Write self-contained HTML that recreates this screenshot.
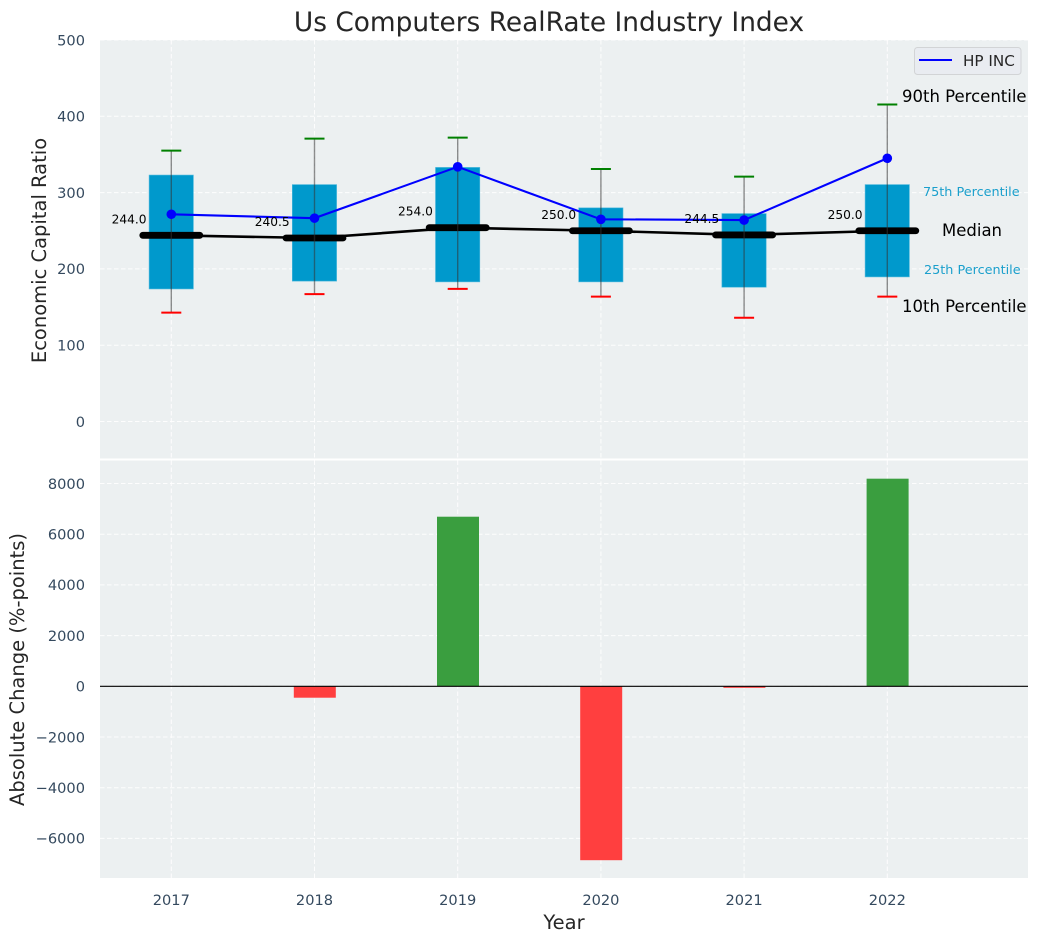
<!DOCTYPE html>
<html>
<head>
<meta charset="utf-8">
<style>
html,body{margin:0;padding:0;background:#fff;}
svg{display:block;}
text{font-family:"DejaVu Sans","Liberation Sans",sans-serif;}
</style>
</head>
<body>
<svg id="chart" xmlns="http://www.w3.org/2000/svg" width="1039" height="942" viewBox="0 0 1039 942">
  <g id="marks"></g>
  <text x="549" y="31" text-anchor="middle" font-size="26.4" fill="#262626">Us Computers RealRate Industry Index</text>
  <text transform="translate(46,250.5) rotate(-90)" text-anchor="middle" font-size="19.5" fill="#262626">Economic Capital Ratio</text>
  <text transform="translate(24,669.5) rotate(-90)" text-anchor="middle" font-size="19.5" fill="#262626">Absolute Change (%-points)</text>
  <text x="564" y="929" text-anchor="middle" font-size="19.5" fill="#262626">Year</text>
  <text x="902" y="102" font-size="16.5" fill="#000000">90th Percentile</text>
  <text x="923" y="196" font-size="12.8" fill="#1a9fcc">75th Percentile</text>
  <text x="942" y="236" font-size="16.5" fill="#000000">Median</text>
  <text x="924" y="274" font-size="12.8" fill="#1a9fcc">25th Percentile</text>
  <text x="902" y="312" font-size="16.5" fill="#000000">10th Percentile</text>
  <g>
    <rect x="914.5" y="47.5" width="106.5" height="27" rx="3" fill="#e9ecf1" stroke="#d2d4d6"/>
    <line x1="919" x2="952" y1="60" y2="60" stroke="#0000ff" stroke-width="2.1"/>
    <text x="963" y="66" font-size="15.2" fill="#262626">HP INC</text>
  </g>
</svg>
<script>
const years = [2017, 2018, 2019, 2020, 2021, 2022];
const p10 = [142.7, 167, 173.8, 163.6, 136, 163.6];
const p25 = [173.7, 184, 183, 183, 176, 189.5];
const medians = [244.0, 240.5, 254.0, 250.0, 244.5, 250.0];
const p75 = [323, 310.5, 333, 280, 272.5, 310.5];
const p90 = [355, 370.7, 372, 331, 321, 415.5];
const companyValues = [271.6, 266.5, 333.8, 265, 264, 345];
const changes = [0, -450, 6690, -6860, -60, 8190];
const topTicks = [0, 100, 200, 300, 400, 500];
const bottomTicks = [-6000, -4000, -2000, 0, 2000, 4000, 6000, 8000];

const NS = 'http://www.w3.org/2000/svg';
const marks = document.getElementById('marks');
const L = 100, R = 1028;
const T1 = 40, B1 = 458.5, T2 = 460.5, B2 = 878;
const xScale = function (y) { return 171.3 + (y - 2017) * 143.2; };
const yTop = function (v) { return 421.5 - v * 0.763; };
const yBot = function (v) { return 686.3 - v * 0.02535; };

function mk(tag, attrs) {
  const el = document.createElementNS(NS, tag);
  for (const k in attrs) el.setAttribute(k, attrs[k]);
  marks.appendChild(el);
  return el;
}
function label(str, attrs) {
  const el = mk('text', attrs);
  el.textContent = str;
  return el;
}
const tickColor = '#34495e';
const tickSize = 14.6;
const gridStyle = { stroke: '#ffffff', 'stroke-width': 1, 'stroke-dasharray': '4.5 2.5', opacity: 0.9 };

/* panels */
const panelTop = mk('rect', { x: L, y: T1, width: R - L, height: B1 - T1, fill: '#ecf0f1' });


const panelBottom = mk('rect', { x: L, y: T2, width: R - L, height: B2 - T2, fill: '#ecf0f1' });



/* grid and ticks */
topTicks.forEach(function (t) {
  const y = yTop(t);
  const g = mk('line', Object.assign({ x1: L, x2: R, y1: y, y2: y }, gridStyle));
  
  
  const tl = label(String(t), { x: 85, y: y + 5.3, 'text-anchor': 'end', 'font-size': tickSize, fill: tickColor });
  
  
});
bottomTicks.forEach(function (t) {
  const y = yBot(t);
  const g = mk('line', Object.assign({ x1: L, x2: R, y1: y, y2: y }, gridStyle));
  
  
  const str = (t < 0 ? '\u2212' : '') + Math.abs(t);
  const tl = label(str, { x: 85, y: y + 5.3, 'text-anchor': 'end', 'font-size': tickSize, fill: tickColor });
  
  
});
years.forEach(function (yr) {
  const x = xScale(yr);
  const g1 = mk('line', Object.assign({ x1: x, x2: x, y1: T1, y2: B1 }, gridStyle));
  
  
  const g2 = mk('line', Object.assign({ x1: x, x2: x, y1: T2, y2: B2 }, gridStyle));
  
  
  const tl = label(String(yr), { x: x, y: 905, 'text-anchor': 'middle', 'font-size': tickSize, fill: tickColor });
  
  
});

/* boxes */
years.forEach(function (yr, i) {
  const x = xScale(yr);
  const box = mk('rect', { x: x - 22.2, y: yTop(p75[i]), width: 44.3, height: yTop(p25[i]) - yTop(p75[i]), fill: '#0099cc', stroke: '#4db8dc', 'stroke-width': 0.6 });
  
  
});

/* median connecting line */
const medianLine = mk('polyline', { points: years.map(function (yr, i) { return xScale(yr) + ',' + yTop(medians[i]); }).join(' '), fill: 'none', stroke: '#000000', 'stroke-width': 2.6 });



/* median bars */
years.forEach(function (yr, i) {
  const x = xScale(yr);
  const m = mk('line', { x1: x - 28.5, x2: x + 28.5, y1: yTop(medians[i]), y2: yTop(medians[i]), stroke: '#000000', 'stroke-width': 6.8, 'stroke-linecap': 'round' });
  
  
});

/* whiskers */
years.forEach(function (yr, i) {
  const x = xScale(yr);
  const w = mk('line', { x1: x, x2: x, y1: yTop(p90[i]), y2: yTop(p10[i]), stroke: '#333333', 'stroke-opacity': 0.55, 'stroke-width': 1.4 });
  
  
  const c1 = mk('line', { x1: x - 10, x2: x + 10, y1: yTop(p90[i]), y2: yTop(p90[i]), stroke: '#008000', 'stroke-width': 2 });
  
  
  const c2 = mk('line', { x1: x - 10, x2: x + 10, y1: yTop(p10[i]), y2: yTop(p10[i]), stroke: '#ff0000', 'stroke-width': 2 });
  
  
});

/* company line */
const companyLine = mk('polyline', { points: years.map(function (yr, i) { return xScale(yr) + ',' + yTop(companyValues[i]); }).join(' '), fill: 'none', stroke: '#0000ff', 'stroke-width': 2.1 });


years.forEach(function (yr, i) {
  const pt = mk('circle', { cx: xScale(yr), cy: yTop(companyValues[i]), r: 4.8, fill: '#0000ff' });
  
  
});

/* median value labels */
years.forEach(function (yr, i) {
  const t = label(medians[i].toFixed(1), { x: xScale(yr) - 24.8, y: yTop(medians[i]) - 12, 'text-anchor': 'end', 'font-size': 12.2, fill: '#000000' });
  
  
});

/* bars */
years.forEach(function (yr, i) {
  const v = changes[i];
  if (v === 0) return;
  const x = xScale(yr);
  const y0 = yBot(0), y1 = yBot(v);
  const b = mk('rect', { x: x - 20.7, y: Math.min(y0, y1), width: 42, height: Math.abs(y1 - y0), fill: v > 0 ? '#3a9e3f' : '#ff3f3f' });
  
  
});
const zeroLine = mk('line', { x1: L, x2: R, y1: yBot(0), y2: yBot(0), stroke: '#000000', 'stroke-width': 1.2 });


</script>
</body>
</html>
